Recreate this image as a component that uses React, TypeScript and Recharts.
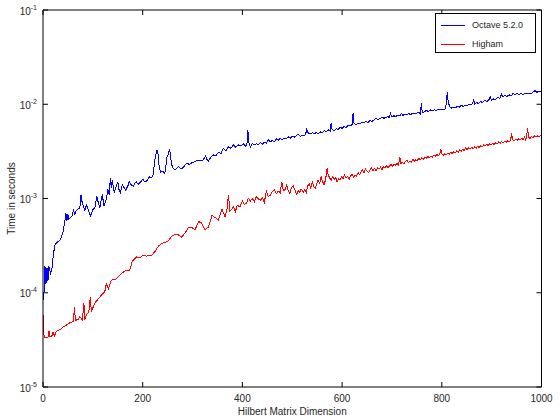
import React from "react";
import { LineChart, Line, XAxis, YAxis, Legend } from "recharts";

const FONT = '"Liberation Sans", Arial, Helvetica, sans-serif';
const TEXT = "#262626";

const xTicks = [0, 200, 400, 600, 800, 1000];
const yTicks = [1e-5, 1e-4, 1e-3, 1e-2, 1e-1];

const blueName = "Octave 5.2.0";
const redName = "Higham";
const legendOrder = [blueName, redName];

// [dimension, seconds]
const blueSamples: [number, number][] = [
  [1, 8.4e-5], [3, 1.2e-4], [4, 1.9e-4], [6, 1.25e-4], [8, 1.85e-4], [10, 1.35e-4], [12, 1.9e-4], [15, 1.6e-4],
  [18, 1.8e-4], [21, 2.6e-4], [24, 3.2e-4], [27, 3.4e-4], [31, 3.5e-4], [34, 3.6e-4], [37, 3.9e-4], [41, 4.6e-4],
  [44, 5.9e-4], [46, 7.0e-4], [48, 5.8e-4], [50, 6.8e-4], [52, 6.0e-4], [54, 6.2e-4], [58, 6.5e-4], [61, 7.5e-4],
  [64, 6.8e-4], [67, 7.5e-4], [71, 7.8e-4], [74, 8.0e-4], [76, 1.1e-3], [79, 8.8e-4], [84, 7.5e-4], [87, 8.5e-4],
  [90, 7.9e-4], [95, 6.5e-4], [100, 7.6e-4], [104, 8.0e-4], [108, 1.05e-3], [111, 9.0e-4], [114, 8.0e-4], [119, 1.12e-3],
  [122, 8.3e-4], [127, 9.8e-4], [130, 1.25e-3], [133, 1.1e-3], [135, 1.65e-3], [137, 1.3e-3], [139, 1.55e-3], [143, 1.16e-3],
  [147, 1.35e-3], [150, 1.5e-3], [153, 1.2e-3], [155, 1.15e-3], [159, 1.4e-3], [163, 1.3e-3], [166, 1.23e-3], [170, 1.35e-3],
  [173, 1.5e-3], [177, 1.4e-3], [181, 1.35e-3], [184, 1.45e-3], [187, 1.5e-3], [191, 1.42e-3], [194, 1.46e-3], [200, 1.6e-3],
  [204, 1.5e-3], [207, 1.5e-3], [211, 1.62e-3], [214, 1.7e-3], [218, 1.65e-3], [221, 1.8e-3], [224, 2.5e-3], [227, 3.0e-3],
  [229, 3.3e-3], [231, 2.9e-3], [233, 2.2e-3], [236, 1.9e-3], [240, 1.95e-3], [244, 1.85e-3], [246, 2.0e-3], [248, 2.7e-3],
  [251, 2.9e-3], [254, 3.35e-3], [256, 2.8e-3], [258, 2.3e-3], [261, 2.1e-3], [265, 2.0e-3], [269, 2.1e-3], [272, 2.2e-3],
  [277, 2.05e-3], [282, 2.15e-3], [286, 2.3e-3], [289, 2.35e-3], [294, 2.3e-3], [299, 2.4e-3], [304, 2.45e-3], [309, 2.55e-3],
  [314, 2.5e-3], [319, 2.5e-3], [323, 2.65e-3], [326, 2.8e-3], [329, 2.6e-3], [332, 2.5e-3], [337, 2.75e-3], [342, 2.9e-3],
  [347, 2.85e-3], [352, 3.1e-3], [357, 3.0e-3], [362, 3.4e-3], [367, 3.2e-3], [372, 3.55e-3], [377, 3.4e-3], [382, 3.7e-3],
  [387, 3.5e-3], [392, 3.7e-3], [397, 3.6e-3], [402, 3.8e-3], [406, 3.6e-3], [409, 3.7e-3], [411, 5.3e-3], [413, 3.9e-3],
  [416, 3.5e-3], [420, 3.85e-3], [424, 3.7e-3], [428, 3.82e-3], [432, 3.72e-3], [436, 3.9e-3], [440, 3.78e-3], [444, 3.95e-3],
  [448, 3.85e-3], [452, 4.2e-3], [456, 3.98e-3], [460, 4.12e-3], [464, 4.0e-3], [468, 4.3e-3], [472, 4.15e-3], [476, 4.35e-3],
  [480, 4.2e-3], [484, 4.38e-3], [488, 4.3e-3], [492, 4.5e-3], [496, 4.35e-3], [500, 4.6e-3], [504, 4.45e-3], [508, 4.65e-3],
  [512, 4.8e-3], [516, 4.55e-3], [520, 4.72e-3], [524, 4.6e-3], [527, 4.85e-3], [529, 5.4e-3], [532, 4.95e-3], [536, 4.82e-3],
  [540, 5.0e-3], [544, 4.85e-3], [548, 5.02e-3], [552, 4.9e-3], [556, 5.1e-3], [560, 4.98e-3], [564, 5.25e-3], [568, 5.1e-3],
  [572, 5.35e-3], [576, 5.2e-3], [578, 6.3e-3], [580, 5.4e-3], [584, 5.25e-3], [588, 5.5e-3], [592, 5.38e-3], [596, 5.7e-3],
  [600, 5.55e-3], [604, 5.8e-3], [608, 5.65e-3], [612, 6.0e-3], [616, 5.85e-3], [620, 6.1e-3], [622, 8.0e-3], [624, 6.3e-3],
  [628, 6.1e-3], [632, 6.3e-3], [636, 6.15e-3], [640, 6.5e-3], [644, 6.35e-3], [648, 6.55e-3], [652, 6.4e-3], [656, 6.7e-3],
  [660, 6.55e-3], [664, 6.85e-3], [668, 7.1e-3], [672, 6.9e-3], [676, 7.05e-3], [680, 7.3e-3], [684, 7.1e-3], [688, 7.25e-3],
  [692, 7.4e-3], [695, 7.2e-3], [697, 8.0e-3], [700, 7.3e-3], [704, 7.55e-3], [708, 7.4e-3], [712, 7.7e-3], [716, 7.5e-3],
  [719, 8.0e-3], [722, 7.6e-3], [726, 7.85e-3], [730, 7.7e-3], [734, 7.95e-3], [738, 7.75e-3], [742, 8.1e-3], [746, 7.9e-3],
  [750, 8.05e-3], [754, 8.3e-3], [757, 7.9e-3], [759, 1.02e-2], [761, 8.1e-3], [765, 8.3e-3], [769, 8.6e-3], [773, 8.4e-3],
  [777, 8.7e-3], [781, 8.5e-3], [785, 8.75e-3], [789, 8.6e-3], [793, 8.9e-3], [797, 8.7e-3], [801, 8.9e-3], [805, 8.75e-3],
  [808, 9.2e-3], [811, 1.34e-2], [813, 1.05e-2], [816, 9.4e-3], [819, 9.1e-3], [823, 9.3e-3], [827, 9.15e-3], [831, 9.45e-3],
  [835, 9.3e-3], [839, 9.7e-3], [843, 9.5e-3], [847, 9.75e-3], [851, 9.6e-3], [855, 1.0e-2], [859, 9.8e-3], [862, 1.02e-2],
  [864, 1.13e-2], [866, 1.0e-2], [870, 1.04e-2], [874, 1.02e-2], [878, 1.07e-2], [882, 1.04e-2], [886, 1.1e-2], [890, 1.07e-2],
  [894, 1.1e-2], [897, 1.2e-2], [900, 1.1e-2], [904, 1.14e-2], [908, 1.12e-2], [912, 1.18e-2], [916, 1.15e-2], [920, 1.28e-2],
  [923, 1.2e-2], [927, 1.24e-2], [931, 1.21e-2], [935, 1.26e-2], [939, 1.23e-2], [943, 1.3e-2], [947, 1.26e-2], [951, 1.3e-2],
  [955, 1.26e-2], [959, 1.3e-2], [963, 1.27e-2], [967, 1.31e-2], [971, 1.28e-2], [975, 1.32e-2], [979, 1.3e-2], [983, 1.35e-2],
  [987, 1.39e-2], [991, 1.34e-2], [995, 1.37e-2], [1000, 1.35e-2],
];

const redSamples: [number, number][] = [
  [1, 5.8e-5], [2, 3.6e-5], [3, 3.4e-5], [6, 3.3e-5], [10, 3.4e-5], [12, 3.9e-5], [14, 3.4e-5], [18, 3.5e-5],
  [20, 3.8e-5], [23, 3.5e-5], [27, 3.9e-5], [34, 4.05e-5], [41, 4.35e-5], [47, 4.55e-5], [54, 4.8e-5], [61, 4.95e-5],
  [63, 7.1e-5], [65, 5.1e-5], [71, 5.2e-5], [74, 5.6e-5], [79, 5.1e-5], [82, 7.8e-5], [84, 5.2e-5], [87, 5.8e-5],
  [92, 6.3e-5], [95, 9.1e-5], [97, 6.3e-5], [104, 7.8e-5], [111, 8.6e-5], [117, 9.4e-5], [124, 1.03e-4], [127, 1.25e-4],
  [131, 1.1e-4], [137, 1.36e-4], [146, 1.4e-4], [154, 1.54e-4], [164, 1.7e-4], [174, 1.74e-4], [179, 2.15e-4], [188, 2.4e-4],
  [195, 2.35e-4], [201, 2.5e-4], [208, 2.45e-4], [218, 2.5e-4], [225, 2.75e-4], [231, 3.1e-4], [238, 3.35e-4], [245, 3.4e-4],
  [251, 3.55e-4], [258, 3.95e-4], [265, 4.2e-4], [272, 4.1e-4], [278, 3.9e-4], [285, 4.3e-4], [292, 4.95e-4], [298, 4.95e-4],
  [305, 4.65e-4], [312, 5.7e-4], [318, 5.5e-4], [325, 4.65e-4], [332, 5.0e-4], [339, 6.6e-4], [345, 6.3e-4], [352, 5.9e-4],
  [359, 7.7e-4], [365, 6.4e-4], [369, 7.6e-4], [372, 1.1e-3], [375, 7.3e-4], [382, 8.1e-4], [386, 7.3e-4], [390, 8.5e-4],
  [395, 8.1e-4], [400, 9.5e-4], [404, 8.6e-4], [408, 8.9e-4], [412, 1.0e-3], [416, 9.4e-4], [420, 1.0e-3], [424, 9.2e-4],
  [428, 1.05e-3], [432, 9.9e-4], [436, 9.6e-4], [440, 1.02e-3], [444, 9.1e-4], [448, 1.2e-3], [452, 1.05e-3], [456, 1.08e-3],
  [460, 1.18e-3], [464, 1.25e-3], [468, 1.12e-3], [472, 1.2e-3], [476, 1.15e-3], [479, 1.5e-3], [482, 1.2e-3], [486, 1.25e-3],
  [489, 1.4e-3], [492, 1.2e-3], [495, 1.13e-3], [498, 1.3e-3], [502, 1.36e-3], [505, 1.25e-3], [509, 1.1e-3], [512, 1.22e-3],
  [515, 1.15e-3], [518, 1.26e-3], [522, 1.17e-3], [525, 1.24e-3], [528, 1.15e-3], [531, 1.35e-3], [534, 1.45e-3], [537, 1.3e-3],
  [540, 1.5e-3], [543, 1.35e-3], [546, 1.28e-3], [549, 1.42e-3], [552, 1.57e-3], [555, 1.45e-3], [558, 1.7e-3], [561, 1.5e-3],
  [564, 1.4e-3], [567, 1.6e-3], [570, 2.1e-3], [572, 1.8e-3], [575, 1.65e-3], [578, 1.55e-3], [581, 1.7e-3], [584, 1.6e-3],
  [587, 1.68e-3], [590, 1.5e-3], [593, 1.62e-3], [596, 1.58e-3], [599, 1.7e-3], [602, 1.62e-3], [605, 1.78e-3], [608, 1.65e-3],
  [611, 1.72e-3], [614, 1.6e-3], [617, 1.75e-3], [620, 1.8e-3], [623, 1.68e-3], [626, 1.78e-3], [629, 1.72e-3], [632, 1.88e-3],
  [635, 1.8e-3], [638, 1.9e-3], [641, 2.02e-3], [644, 1.88e-3], [647, 2.05e-3], [650, 1.95e-3], [653, 1.88e-3], [656, 2.02e-3],
  [659, 2.1e-3], [662, 1.98e-3], [665, 2.08e-3], [668, 1.97e-3], [671, 2.12e-3], [674, 2.05e-3], [677, 2.15e-3], [680, 2.02e-3],
  [683, 2.18e-3], [686, 2.1e-3], [689, 2.22e-3], [692, 2.12e-3], [695, 2.2e-3], [698, 2.3e-3], [701, 2.18e-3], [704, 2.32e-3],
  [707, 2.25e-3], [710, 2.35e-3], [713, 2.27e-3], [716, 2.75e-3], [718, 2.35e-3], [721, 2.42e-3], [724, 2.33e-3], [727, 2.47e-3],
  [730, 2.55e-3], [733, 2.42e-3], [736, 2.5e-3], [739, 2.43e-3], [742, 2.6e-3], [745, 2.5e-3], [748, 2.58e-3], [751, 2.52e-3],
  [754, 2.68e-3], [757, 2.58e-3], [760, 2.7e-3], [763, 2.6e-3], [766, 2.74e-3], [769, 2.66e-3], [772, 2.8e-3], [775, 2.7e-3],
  [778, 2.82e-3], [781, 2.74e-3], [784, 2.88e-3], [787, 2.8e-3], [790, 2.95e-3], [793, 2.85e-3], [796, 2.95e-3], [798, 3.35e-3],
  [800, 3.0e-3], [803, 2.88e-3], [806, 3.0e-3], [809, 2.9e-3], [812, 3.02e-3], [815, 2.95e-3], [818, 3.1e-3], [821, 3.0e-3],
  [824, 3.14e-3], [827, 3.06e-3], [830, 3.2e-3], [833, 3.1e-3], [836, 3.28e-3], [839, 3.18e-3], [842, 3.32e-3], [845, 3.22e-3],
  [848, 3.45e-3], [851, 3.3e-3], [854, 3.45e-3], [857, 3.35e-3], [860, 3.48e-3], [863, 3.38e-3], [866, 3.52e-3], [869, 3.42e-3],
  [872, 3.58e-3], [875, 3.48e-3], [878, 3.62e-3], [881, 3.52e-3], [884, 3.7e-3], [887, 3.6e-3], [890, 3.75e-3], [893, 3.66e-3],
  [896, 3.8e-3], [899, 3.7e-3], [902, 3.85e-3], [905, 3.75e-3], [908, 3.9e-3], [911, 3.8e-3], [914, 3.98e-3], [917, 3.86e-3],
  [920, 4.02e-3], [923, 3.9e-3], [926, 4.05e-3], [929, 3.95e-3], [932, 4.1e-3], [935, 4.0e-3], [938, 4.12e-3], [940, 4.9e-3],
  [942, 4.2e-3], [945, 4.1e-3], [948, 4.25e-3], [951, 4.15e-3], [954, 4.3e-3], [957, 4.2e-3], [960, 4.35e-3], [963, 4.22e-3],
  [966, 4.5e-3], [968, 4.2e-3], [970, 4.4e-3], [972, 5.6e-3], [974, 4.5e-3], [977, 4.35e-3], [980, 4.55e-3], [983, 4.42e-3],
  [986, 4.6e-3], [989, 4.48e-3], [992, 4.62e-3], [995, 4.5e-3], [998, 4.68e-3], [1000, 4.55e-3],
];

const blueData = blueSamples.map(([n, t]) => ({ n, t }));
const redData = redSamples.map(([n, t]) => ({ n, t }));

const TICK_LEN = 5;

const BottomTick = (props: any) => {
  const { x, y, payload } = props;
  return (
    <g>
      <line x1={x} y1={y} x2={x} y2={y - TICK_LEN} stroke="#000" strokeWidth={1} />
      <text x={x} y={y + 14.5} textAnchor="middle" fontSize={10} fontFamily={FONT} fill={TEXT}>
        {payload.value}
      </text>
    </g>
  );
};

const TopTick = (props: any) => {
  const { x, y } = props;
  return <line x1={x} y1={y} x2={x} y2={y + TICK_LEN} stroke="#000" strokeWidth={1} />;
};

const LeftTick = (props: any) => {
  const { x, y, payload } = props;
  const exp = Math.round(Math.log10(payload.value));
  return (
    <g>
      <line x1={x} y1={y} x2={x + TICK_LEN} y2={y} stroke="#000" strokeWidth={1} />
      <text x={x - 6} y={y + 4.5} textAnchor="end" fontSize={10} fontFamily={FONT} fill={TEXT}>
        <tspan>10</tspan>
        <tspan dy={-5} fontSize={7}>{String(exp)}</tspan>
      </text>
    </g>
  );
};

const RightTick = (props: any) => {
  const { x, y } = props;
  return <line x1={x} y1={y} x2={x - TICK_LEN} y2={y} stroke="#000" strokeWidth={1} />;
};

const YLabel = (props: any) => {
  const vb = props.viewBox;
  const cx = vb.x + 11;
  const cy = vb.y + vb.height / 2;
  return (
    <text
      x={cx}
      y={cy}
      transform={`rotate(-90 ${cx} ${cy})`}
      textAnchor="middle"
      dominantBaseline="central"
      fontSize={10}
      fontFamily={FONT}
      fill={TEXT}
    >
      Time in seconds
    </text>
  );
};

const XLabel = (props: any) => {
  const vb = props.viewBox;
  const cx = vb.x + vb.width / 2;
  return (
    <text x={cx} y={vb.y + 27.5} textAnchor="middle" fontSize={10} fontFamily={FONT} fill={TEXT}>
      Hilbert Matrix Dimension
    </text>
  );
};

const LegendBox = (props: any) => {
  const payload = [...(props.payload || [])].sort(
    (a: any, b: any) => legendOrder.indexOf(a.value) - legendOrder.indexOf(b.value)
  );
  return (
    <div
      style={{
        width: 101,
        height: 40,
        boxSizing: "border-box",
        border: "1px solid #000",
        background: "#fff",
        fontFamily: FONT,
        fontSize: 9,
        color: TEXT,
        paddingTop: 1,
      }}
    >
      {payload.map((entry: any) => (
        <div key={entry.value} style={{ display: "flex", alignItems: "center", height: 19 }}>
          <svg width={36} height={4} style={{ display: "block" }}>
            <line x1={5} y1={2} x2={29} y2={2} stroke={entry.color} strokeWidth={1} shapeRendering="crispEdges" />
          </svg>
          <span style={{ lineHeight: "10px" }}>{entry.value}</span>
        </div>
      ))}
    </div>
  );
};

export default function App() {
  return (
    <div style={{ position: "absolute", left: 0, top: 0, width: 560, height: 420, background: "#fff" }}>
      <LineChart width={560} height={420} margin={{ top: 5, right: 13.5, bottom: 0, left: 0 }}>
        <XAxis
          xAxisId="bottom"
          dataKey="n"
          type="number"
          domain={[0, 1000]}
          ticks={xTicks}
          allowDataOverflow
          height={33}
          tickSize={0}
          tickMargin={0}
          tickLine={false}
          axisLine={{ stroke: "#000", strokeWidth: 1 }}
          tick={<BottomTick />}
          interval={0}
          label={<XLabel />}
        />
        <XAxis
          xAxisId="top"
          orientation="top"
          dataKey="n"
          type="number"
          domain={[0, 1000]}
          ticks={xTicks}
          allowDataOverflow
          height={5}
          tickSize={0}
          tickMargin={0}
          tickLine={false}
          axisLine={{ stroke: "#000", strokeWidth: 1 }}
          tick={<TopTick />}
          interval={0}
        />
        <YAxis
          yAxisId="left"
          scale="log"
          type="number"
          domain={[1e-5, 1e-1]}
          ticks={yTicks}
          allowDataOverflow
          width={43}
          tickSize={0}
          tickMargin={0}
          tickLine={false}
          axisLine={{ stroke: "#000", strokeWidth: 1 }}
          tick={<LeftTick />}
          interval={0}
          label={<YLabel />}
        />
        <YAxis
          yAxisId="right"
          orientation="right"
          scale="log"
          type="number"
          domain={[1e-5, 1e-1]}
          ticks={yTicks}
          allowDataOverflow
          width={5}
          tickSize={0}
          tickMargin={0}
          tickLine={false}
          axisLine={{ stroke: "#000", strokeWidth: 1 }}
          tick={<RightTick />}
          interval={0}
        />
        <Legend
          layout="vertical"
          align="center"
          verticalAlign="middle"
          itemSorter={null as any}
          wrapperStyle={{ left: 435, top: 13, width: 101 }}
          content={<LegendBox />}
        />
        <Line
          xAxisId="bottom"
          yAxisId="left"
          data={blueData}
          dataKey="t"
          name={blueName}
          stroke="#0000ff"
          strokeWidth={1}
          shapeRendering="crispEdges"
          dot={false}
          activeDot={false}
          type="linear"
          isAnimationActive={false}
        />
        <Line
          xAxisId="bottom"
          yAxisId="left"
          data={redData}
          dataKey="t"
          name={redName}
          stroke="#ff0000"
          strokeWidth={1}
          shapeRendering="crispEdges"
          dot={false}
          activeDot={false}
          type="linear"
          isAnimationActive={false}
        />
      </LineChart>
    </div>
  );
}
